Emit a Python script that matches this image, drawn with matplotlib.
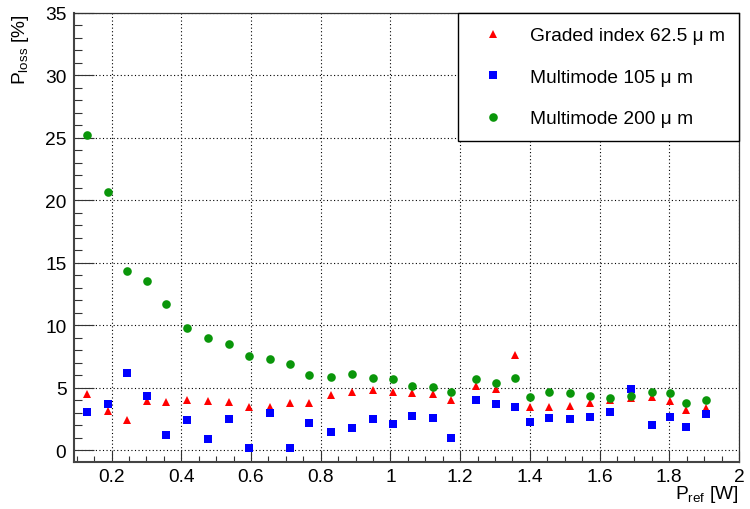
import numpy as np
import matplotlib
matplotlib.use('Agg')
import matplotlib.pyplot as plt
from matplotlib.ticker import MultipleLocator, FormatStrFormatter

plt.rcParams['font.family'] = ['Liberation Sans', 'DejaVu Sans']
plt.rcParams['mathtext.fontset'] = 'custom'
plt.rcParams['mathtext.rm'] = 'Liberation Sans'
plt.rcParams['mathtext.it'] = 'Liberation Sans:italic'

# reference power [W] of each measurement
p_ref = [0.130, 0.189, 0.244, 0.301, 0.356, 0.417, 0.476, 0.538, 0.595, 0.654,
         0.711, 0.765, 0.830, 0.890, 0.951, 1.006, 1.063, 1.122, 1.174, 1.244,
         1.302, 1.358, 1.401, 1.456, 1.514, 1.572, 1.630, 1.689, 1.750, 1.802,
         1.848, 1.904]

# power loss [%] for each fibre
loss_graded = [4.52, 3.18, 2.44, 3.93, 3.85, 4.06, 3.93, 3.85, 3.50, 3.50,
               3.80, 3.77, 4.41, 4.68, 4.86, 4.68, 4.60, 4.49, 4.01, 5.16,
               4.94, 7.61, 3.45, 3.45, 3.56, 3.82, 4.04, 4.22, 4.28, 3.93,
               3.26, 3.40]
loss_mm105 = [3.07, 3.74, 6.23, 4.33, 1.20, 2.40, 0.88, 2.48, 0.22, 3.00,
              0.22, 2.22, 1.47, 1.76, 2.52, 2.14, 2.78, 2.60, 1.02, 4.04,
              3.72, 3.45, 2.24, 2.62, 2.52, 2.70, 3.08, 4.89, 2.04, 2.70,
              1.84, 2.88]
loss_mm200 = [25.24, 20.70, 14.34, 13.57, 11.70, 9.78, 9.03, 8.55, 7.59, 7.32,
              6.95, 6.01, 5.88, 6.09, 5.80, 5.69, 5.16, 5.05, 4.68, 5.69,
              5.42, 5.80, 4.28, 4.68, 4.57, 4.38, 4.20, 4.36, 4.68, 4.57,
              3.82, 4.01]

labels = ['Graded index 62.5 μ m', 'Multimode 105 μ m', 'Multimode 200 μ m']

fs = 13.8

fig = plt.figure(figsize=(7.5, 5.1), dpi=100)
ax = fig.add_axes([74/750, 1 - 463/510, 665/750, 449/510])

ax.plot(p_ref, loss_graded, '^', color='#ff0000', ms=6.3, mew=0, label=labels[0])
ax.plot(p_ref, loss_mm105, 's', color='#0000ff', ms=6.2, mew=0, label=labels[1])
ax.plot(p_ref, loss_mm200, 'o', color='#0a960a', ms=6.2, mew=0, label=labels[2])

ax.set_xlim(0.092, 2.0)
ax.set_ylim(-0.93, 35)

ax.xaxis.set_major_locator(MultipleLocator(0.2))
ax.xaxis.set_minor_locator(MultipleLocator(0.05))
ax.yaxis.set_major_locator(MultipleLocator(5))
ax.yaxis.set_minor_locator(MultipleLocator(1))
ax.xaxis.set_major_formatter(FormatStrFormatter('%g'))

ax.tick_params(axis='both', which='both', direction='in', colors='#333333',
               labelcolor='black', labelsize=fs, width=0.8)
ax.tick_params(axis='x', which='major', length=8, pad=4.5)
ax.tick_params(axis='x', which='minor', length=4.3)
ax.tick_params(axis='y', which='major', length=14.5, pad=5.5)
ax.tick_params(axis='y', which='minor', length=5.8)

ax.grid(True, which='major', color='black', linestyle=(0, (1, 2.2)), linewidth=0.8)

for side in ['left', 'bottom']:
    ax.spines[side].set_linewidth(1.5)
    ax.spines[side].set_color('#444444')
for side in ['top', 'right']:
    ax.spines[side].set_linewidth(0.9)
    ax.spines[side].set_color('#333333')

ax.set_xlabel(r'P$_{\mathrm{ref}}$ [W]', fontsize=fs, ha='right', va='baseline')
ax.xaxis.set_label_coords(1.0, -36/449)
ax.set_ylabel(r'P$_{\mathrm{loss}}$ [%]', fontsize=fs, loc='top')
ax.yaxis.set_label_coords(-43/665, 1.0)

leg = ax.legend(loc='upper right', bbox_to_anchor=(1.0, 1.0), borderaxespad=0,
                fontsize=fs, frameon=True, fancybox=False, framealpha=1,
                edgecolor='black', borderpad=0.72, labelspacing=1.26,
                handlelength=2.2, handletextpad=0.84)
leg.get_frame().set_linewidth(1.0)

plt.savefig('out.png', dpi=100)
